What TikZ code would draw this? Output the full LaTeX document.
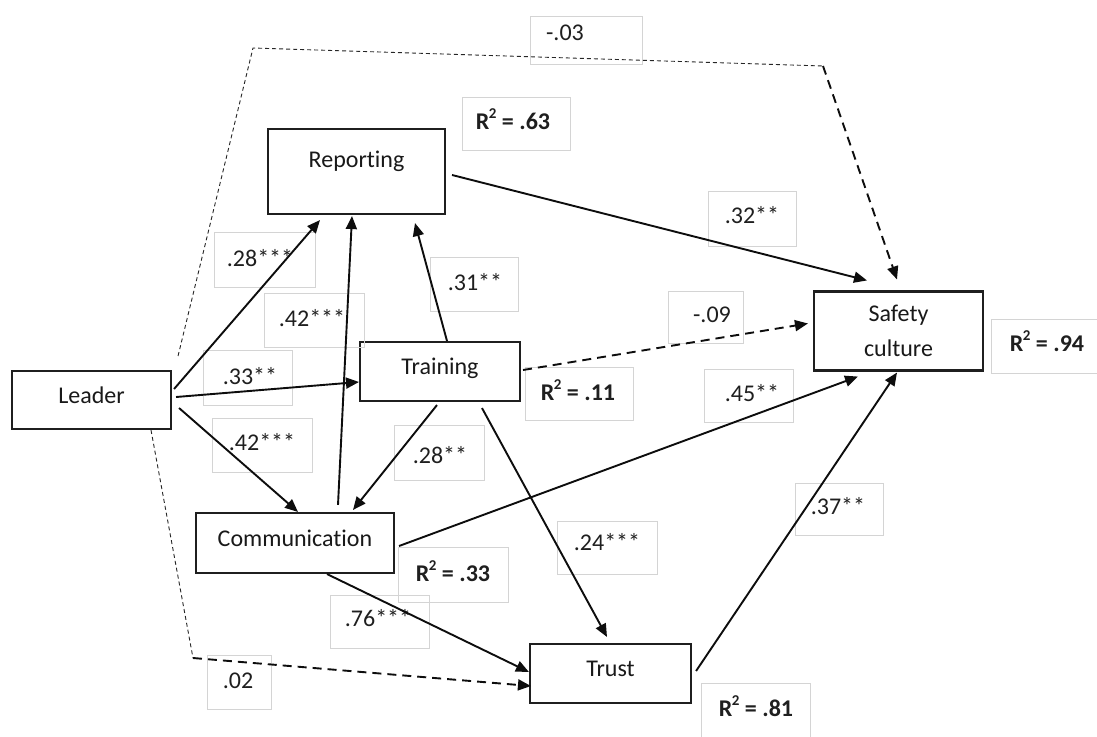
\documentclass[tikz,border=0pt]{standalone}
\usepackage{fontspec}
\setmainfont{Carlito}[Ligatures=NoCommon]
\usetikzlibrary{arrows.meta}

% coefficient label: light frame (x1,y1)-(x2,y2) and its text at (tx,ty)
\newcommand\coefbox[8]{%
  \draw[lblframe] (#2,#3) rectangle (#4,#5);
  \node[lbltxt] (#1) at (#6,#7) {#8};}
% explained variance, bold R with a small raised 2
\newcommand\rsq[1]{\bfseries R\kern-0.5pt\raisebox{0.42em}{\fontsize{15}{15}\selectfont 2}\ = #1}

\begin{document}
\begin{tikzpicture}[x=1pt,y=-1pt,
  varbox/.style={draw=black!88, line width=2.1pt, inner sep=0pt,
    font=\fontsize{24}{29}\selectfont, text=black!90},
  oneline/.style={text height=17pt, text depth=11pt},
  lblframe/.style={draw=black!17, line width=0.9pt},
  lbltxt/.style={inner sep=0pt, text height=16pt, text depth=0pt,
    font=\fontsize{24}{29}\selectfont, text=black!88},
  effect/.style={line width=1.9pt, draw=black!95,
    -{Triangle[length=13pt,width=11pt]}},
  nseffect/.style={effect, dash pattern=on 9pt off 6pt},
  thindash/.style={line width=0.9pt, draw=black!85, dash pattern=on 4pt off 3pt}]

\useasboundingbox (0,0) rectangle (1097,736);
\fill[white] (0,0) rectangle (1097,736);

% constructs
\node[varbox, oneline, minimum width=159pt, minimum height=58pt] (leader) at (91.5,400) {Leader};
\node[varbox, text height=17pt, text depth=26pt, minimum width=177pt, minimum height=85pt] (reporting) at (356.5,171.5) {Reporting};
\node[varbox, oneline, minimum width=160pt, minimum height=59pt] (training) at (440,371.5) {Training};
\node[varbox, oneline, minimum width=198pt, minimum height=60pt] (comm) at (295,543) {Communication};
\node[varbox, oneline, minimum width=161pt, minimum height=59pt] (trust) at (610.5,673.5) {Trust};
\node[varbox, align=center, font=\fontsize{24}{35}\selectfont, minimum width=169pt, minimum height=79pt] (sc) at (898.5,331) {Safety\\culture};

% coefficients and explained variance
\coefbox{cLR}{530}{16}{642}{64}{565}{32}{-.03}
\coefbox{rRep}{462}{97}{570}{150}{513}{121}{\rsq{.63}}
\coefbox{cLRep}{214}{232}{315}{287}{260}{258}{.28***}
\coefbox{cCRep}{264}{293}{364}{347}{312}{318}{.42***}
\coefbox{cTRep}{430}{257}{518}{311}{475}{282}{.31**}
\coefbox{cRepS}{708}{191}{796}{246}{752}{215}{.32**}
\coefbox{cTS}{668}{291}{743}{343}{712}{314}{-.09}
\coefbox{cLT}{203}{350}{292}{405}{250}{376}{.33**}
\coefbox{rTra}{525}{367}{633}{420}{578}{392}{\rsq{.11}}
\coefbox{cCS}{704}{369}{793}{422}{752}{393}{.45**}
\coefbox{rSC}{991}{319}{1100}{373}{1047}{343}{\rsq{.94}}
\coefbox{cLC}{212}{418}{312}{472}{262}{442}{.42***}
\coefbox{cTC}{394}{425}{484}{480}{440}{455}{.28**}
\coefbox{cTTr}{557}{521}{657}{574}{607}{542}{.24***}
\coefbox{rCom}{398}{547}{508}{602}{453}{573}{\rsq{.33}}
\coefbox{cCTr}{330}{595}{429}{648}{378}{618}{.76***}
\coefbox{cTrS}{795}{483}{883}{535}{838}{506}{.37**}
\coefbox{cLTr}{207}{655}{271}{709}{238}{680}{.02}
\coefbox{rTru}{701}{683}{810}{740}{756}{708}{\rsq{.81}}

% bends of the direct Leader paths
\coordinate (topleft) at (253,48);
\coordinate (topright) at (823,66);
\coordinate (lowbend) at (193,658);

% significant paths
\draw[effect] ([xshift=2pt,yshift=11pt]leader.east) -- ([xshift=-36.5pt,yshift=-5pt]reporting.south);
\draw[effect] ([xshift=4pt,yshift=3pt]leader.east) -- ([yshift=-10.5pt]training.west);
\draw[effect] ([xshift=7pt,yshift=-8pt]leader.east) -- ([xshift=3pt]comm.north);
\draw[effect] ([xshift=43pt,yshift=7pt]comm.north) -- ([xshift=-4.5pt,yshift=-1pt]reporting.south);
\draw[effect] ([xshift=7pt]training.north) -- ([xshift=58.5pt,yshift=-8pt]reporting.south);
\draw[effect] ([xshift=-3pt,yshift=-3pt]training.south) -- ([xshift=58pt,yshift=2pt]comm.north);
\draw[effect] ([xshift=42pt,yshift=-6pt]training.south) -- ([xshift=-3.5pt,yshift=6pt]trust.north);
\draw[effect] ([xshift=6pt,yshift=-3.5pt]reporting.east) -- ([xshift=-31.5pt,yshift=10pt]sc.north);
\draw[effect] ([xshift=4pt,yshift=-3pt]comm.east) -- ([xshift=-40.5pt,yshift=-5pt]sc.south);
\draw[effect] ([xshift=32pt]comm.south) -- ([yshift=1.5pt]trust.west);
\draw[effect] ([xshift=4pt,yshift=2.5pt]trust.east) -- ([xshift=-1.5pt,yshift=-1pt]sc.south);

% non-significant paths
\draw[nseffect] ([xshift=2pt,yshift=1.5pt]training.east) -- ([xshift=-5pt,yshift=7.5pt]sc.west);
\draw[thindash] ([xshift=59.5pt]leader.south) -- (lowbend);
\draw[nseffect] (lowbend) -- ([xshift=2pt,yshift=-12.5pt]trust.west);
\draw[thindash] ([xshift=6pt,yshift=14pt]leader.north east) -- (topleft) -- (topright);
\draw[nseffect] (topright) -- ([xshift=-1.5pt,yshift=11pt]sc.north);

\end{tikzpicture}
\end{document}
